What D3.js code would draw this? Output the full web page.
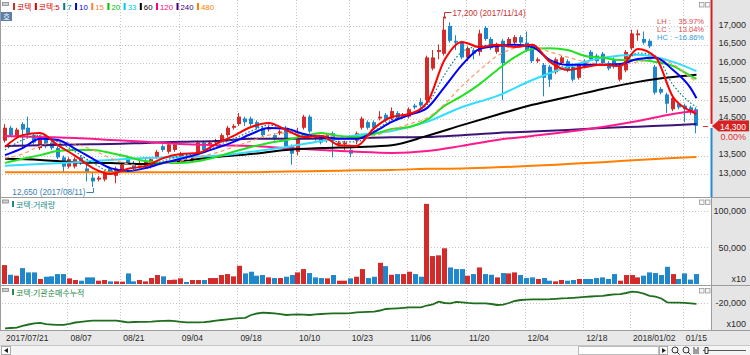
<!DOCTYPE html>
<html><head><meta charset="utf-8">
<script src="https://cdn.jsdelivr.net/npm/d3@7"></script>
<style>body{margin:0;background:#fff;}svg{display:block;font-family:"Liberation Sans","Noto Sans CJK KR",Arial,sans-serif;}</style>
</head><body><svg id="c" width="750" height="355"></svg>
<script>
const dates = ["2017/07/21","2017/07/24","2017/07/25","2017/07/26","2017/07/27","2017/07/28","2017/07/31",
"2017/08/01","2017/08/02","2017/08/03","2017/08/04","2017/08/07","2017/08/08","2017/08/09","2017/08/10","2017/08/11","2017/08/14","2017/08/16","2017/08/17","2017/08/18","2017/08/21","2017/08/22","2017/08/23","2017/08/24","2017/08/25","2017/08/28","2017/08/29","2017/08/30","2017/08/31",
"2017/09/01","2017/09/04","2017/09/05","2017/09/06","2017/09/07","2017/09/08","2017/09/11","2017/09/12","2017/09/13","2017/09/14","2017/09/15","2017/09/18","2017/09/19","2017/09/20","2017/09/21","2017/09/22","2017/09/25","2017/09/26","2017/09/27","2017/09/28","2017/09/29",
"2017/10/10","2017/10/11","2017/10/12","2017/10/13","2017/10/16","2017/10/17","2017/10/18","2017/10/19","2017/10/20","2017/10/23","2017/10/24","2017/10/25","2017/10/26","2017/10/27","2017/10/30","2017/10/31",
"2017/11/01","2017/11/02","2017/11/03","2017/11/06","2017/11/07","2017/11/08","2017/11/09","2017/11/10","2017/11/13","2017/11/14","2017/11/15","2017/11/16","2017/11/17","2017/11/20","2017/11/21","2017/11/22","2017/11/23","2017/11/24","2017/11/27","2017/11/28","2017/11/29","2017/11/30",
"2017/12/01","2017/12/04","2017/12/05","2017/12/06","2017/12/07","2017/12/08","2017/12/11","2017/12/12","2017/12/13","2017/12/14","2017/12/15","2017/12/18","2017/12/19","2017/12/20","2017/12/21","2017/12/22","2017/12/26","2017/12/27","2017/12/28",
"2018/01/02","2018/01/03","2018/01/04","2018/01/05","2018/01/08","2018/01/09","2018/01/10","2018/01/11","2018/01/12","2018/01/15","2018/01/16","2018/01/17"];

const open = [13900,14250,14000,14350,14250,14050,13700,13950,13850,13700,
13450,13200,13200,13450,13150,12900,12850,12850,13150,12950,
13100,13450,13300,13200,13200,13200,13450,13750,13600,13650,
13450,13500,13400,13550,13850,13800,13850,13900,14050,14250,
14350,14500,14500,14400,14250,14200,14050,14100,14250,13750,
13600,14250,14550,14000,14000,13900,14100,13800,13800,13650,
13900,14250,14400,14400,14500,14600,14500,14650,14550,14550,
14850,14950,15000,15850,16300,16250,17000,16600,16550,16150,
16350,16300,16950,16650,16300,16600,16500,16550,16700,16550,
16450,16050,15950,15900,15750,16000,16050,15900,15600,16050,
16300,16200,16250,16000,16100,15550,15800,16400,16750,16650,
16600,15900,15300,15150,14750,14900,14850,14800,14750];
const high = [14350,14300,14250,14400,14550,14100,14050,14050,13900,13750,
13500,13450,13450,13500,13250,13050,12950,13100,13200,13200,
13300,13500,13350,13350,13400,13450,13650,13800,13850,13850,
13600,13550,13500,13900,13900,13900,13950,14100,14300,14350,
14650,14550,14550,14450,14300,14300,14100,14200,14300,13800,
14250,14600,14600,14100,14050,14100,14150,13900,13900,13750,
14150,14550,14450,14450,14700,14650,14800,14700,14650,14800,
14900,15050,16200,16350,16500,17200,17100,16750,16600,16450,
16400,16900,17000,16700,16550,16650,16700,16750,16750,16850,
16500,16150,16000,15950,16150,16200,16100,15950,16000,16100,
16350,16250,16300,16050,16150,15950,16350,16900,16900,16850,
16650,15950,15350,15200,15100,14950,14900,14850,14800];
const low = [13850,14000,13950,13700,14000,13800,13650,13700,13650,13400,
13050,13150,13150,13250,12800,12650,12800,12800,13000,12750,
13050,13250,13100,13150,13150,13150,13400,13600,13550,13600,
13400,13400,13350,13500,13600,13750,13800,13850,14000,14200,
14300,14300,14300,14200,14000,14150,13900,14050,13650,13250,
13500,14200,14100,13900,13800,13850,13450,13750,13650,13450,
13800,14200,14200,14200,14450,14400,14450,14450,14500,14500,
14750,14800,14950,15800,16100,16200,16550,16350,16100,16050,
16100,16200,16600,16350,16250,15000,16450,16500,16500,16300,
16000,16000,15100,15350,15700,15950,15750,15500,15550,15850,
16050,15950,15950,15800,15850,15500,15750,16350,16600,16500,
16400,15150,15150,14650,14700,14750,14400,14600,14100];
const close = [14250,14050,14200,14200,14100,13850,14000,13750,13700,13450,
13200,13400,13400,13300,13050,12800,12900,13050,13050,13150,
13250,13300,13150,13300,13350,13400,13600,13650,13800,13800,
13550,13450,13450,13850,13650,13850,13900,14050,14250,14300,
14550,14400,14350,14250,14050,14250,13950,14150,13750,13550,
13950,14550,14150,13950,13850,14050,13900,13850,13850,13550,
14100,14500,14250,14250,14550,14450,14700,14500,14600,14750,
14800,14850,16150,16150,16350,16900,16600,16550,16150,16400,
16250,16800,16650,16400,16500,16000,16650,16700,16550,16350,
16050,16100,15600,15550,16100,16150,15800,15550,15950,15900,
16100,16050,16000,15850,15900,15900,16300,16800,16800,16550,
16450,15200,15200,14900,15050,14800,14750,14700,14300];
const volume = [25700,12600,11300,21600,15800,15800,6800,9900,10400,13500,
13500,7700,5400,4500,9000,9000,4500,5400,3600,3600,
3200,14400,3600,5400,3600,8100,12200,10400,5400,5900,
7700,2700,5400,5400,5400,8100,8100,12200,13500,10400,
24800,14400,16700,11300,12200,9000,8100,8100,9900,12200,
15800,20300,14900,9000,8100,7700,12200,4500,4500,7700,
9900,20300,8100,9900,28800,24300,12600,13500,13500,16700,
13500,9900,109000,38000,39000,48600,22500,20300,20300,11300,
13500,22500,13500,12600,9000,14900,14400,15800,12200,8100,
9000,6800,8100,4500,3600,5400,4500,5400,6800,6800,
6800,8100,9000,6800,13500,4500,12200,12200,9000,11300,
15800,14900,12200,23400,13500,6800,14400,6000,13500];
const instNetCum = [-26325,-26250,-26175,-25725,-25375,-25075,-24975,-25300,-25400,-25475,
-25450,-25200,-24875,-24700,-24550,-24425,-24425,-24425,-24425,-24425,
-24625,-24825,-24750,-24725,-24700,-24650,-24550,-24450,-24425,-24550,
-24700,-24825,-24825,-24825,-24775,-24625,-24400,-24250,-24075,-23900,
-23800,-23700,-23000,-22625,-22425,-22500,-22600,-22800,-23000,-22900,
-22825,-22900,-23000,-22850,-22750,-22675,-22575,-22575,-22575,-22525,
-22325,-22275,-22225,-22175,-21875,-21500,-21425,-21325,-21200,-21075,
-21075,-21075,-20625,-20325,-19675,-20000,-20075,-19700,-19825,-19975,
-20075,-20075,-20075,-20250,-20500,-20400,-20000,-19500,-19250,-19150,
-19075,-19075,-19075,-19050,-18950,-18850,-18800,-18700,-18575,-18475,
-18375,-18275,-18200,-18000,-17825,-17775,-17500,-17175,-17300,-17650,
-18200,-18400,-18875,-19825,-19900,-19925,-19950,-20075,-20200];

// moving averages at sample dates (index into dates)
const maFineIdx = [0,3,6,9,12,15,18,21,24,27,30,33,36,39,42,45,48,51,54,57,60,63,66,69,72,75,78,81,84,87,90,93,96,99,102,105,108,111,114,117,118];
const ma5 = [13730,14050,14110,13780,13490,13160,13000,13140,13220,13430,13540,13570,13810,14030,14270,14380,14190,14000,14030,13780,13760,14240,14540,14620,14920,16080,16570,16430,16490,16430,16490,16030,15810,15890,15950,15920,16380,16160,15080,14700,14620];
const ma7 = [13650,13920,14050,13870,13600,13300,13080,13080,13190,13350,13490,13570,13760,13950,14160,14320,14220,14050,14030,13870,13870,14160,14460,14620,14870,15680,16300,16460,16490,16460,16460,16080,15870,15920,15950,15950,16270,16190,15410,14920,14810];
const ma10 = [13510,13700,13950,13920,13680,13410,13160,13080,13160,13300,13410,13540,13700,13870,14080,14240,14220,14080,14000,13950,13950,14140,14410,14600,14780,15350,15950,16380,16460,16490,16430,16080,15950,15950,15950,15970,16110,16140,15810,15320,15050];
const ma15 = [13430,13540,13760,13870,13810,13650,13430,13270,13220,13270,13350,13460,13570,13730,13890,14050,14110,14080,14050,14000,13950,14030,14190,14350,14510,14890,15380,15810,16190,16400,16460,16300,16160,16030,15970,15970,16030,16110,15970,15600,15490];
const ma20 = [13300,13410,13510,13620,13650,13650,13570,13460,13350,13300,13300,13350,13460,13600,13730,13840,13920,14030,14110,14030,14000,14080,14220,14270,14460,14840,15110,15430,15810,16160,16380,16400,16350,16190,16140,16080,16080,16030,15920,15650,15570];
const maCoarseIdx = [0,6,12,18,24,30,36,42,48,54,60,66,72,78,84,90,96,102,108,114,118];
const ma33 = [13220,13270,13320,13380,13430,13460,13490,13600,13730,13890,14050,14160,14410,14810,15110,15540,15890,16140,16220,16030,15780];
const ma60 = [13410,13380,13320,13300,13270,13350,13460,13540,13650,13700,13730,13780,14030,14320,14600,14870,15080,15300,15490,15620,15680];
const ma120 = [14030,14000,13970,13920,13870,13810,13780,13760,13700,13650,13600,13570,13620,13760,13920,14030,14140,14270,14430,14620,14700];
const ma240 = [13760,13780,13800,13810,13840,13870,13890,13950,13950,13960,13970,13990,14000,14050,14110,14150,14190,14240,14280,14320,14350];
const ma480 = [13050,13050,13050,13050,13050,13050,13050,13050,13070,13080,13100,13110,13140,13150,13180,13220,13270,13320,13380,13430,13460];

const priceGridTicks = [13000,13500,14000,14500,15000,15500,16000,16500,17000];
const priceLabelTicks = [13000,13500,14500,15000,15500,16000,16500,17000];
const volumeTicks = [50000,100000];
const netTicks = [-20000];
const tickDates = ["2017/07/21","2017/08/07","2017/08/21","2017/09/04","2017/09/18","2017/10/10","2017/10/23","2017/11/06","2017/11/20","2017/12/04","2017/12/18","2018/01/02","2018/01/15"];
const tickLabels = ["2017/07/21","08/07","08/21","09/04","09/18","10/10","10/23","11/06","11/20","12/04","12/18","2018/01/02","01/15"];
const legendNames = ["코텍","코텍:5","7","10","15","20","33","60","120","240","480"];

// ---------- drawing ----------
const svg = d3.select("#c");
const UP="#d42a2a", DOWN="#1f87cc";
const x = d3.scaleBand().domain(dates).range([2.07,699.4]).paddingInner(0.25).paddingOuter(0.125);
const cx = i => x(dates[i]) + x.bandwidth()/2;
const y = d3.scaleLinear().domain([13000,17000]).range([174,26]);
const yv = d3.scaleLinear().domain([0,100000]).range([284,210.5]);
const yn = d3.scaleLinear().domain([-26750,-15500]).range([330,285]);
const crisp = v => Math.round(v)+0.5;

// backgrounds
svg.append("rect").attr("width",750).attr("height",355).attr("fill","#fff");
svg.append("rect").attr("x",712).attr("y",0).attr("width",38).attr("height",331).attr("fill","#e5e5e5");
svg.append("rect").attr("x",0).attr("y",331).attr("width",750).attr("height",14).attr("fill","#e8e8e8");
svg.append("rect").attr("x",0).attr("y",345).attr("width",750).attr("height",10).attr("fill","#f5f5f5");

// grid
const grid = svg.append("g").attr("stroke","#c4c4c4").attr("stroke-dasharray","1,2").attr("stroke-width",1);
priceGridTicks.forEach(p=>grid.append("line").attr("x1",2).attr("x2",710).attr("y1",crisp(y(p))).attr("y2",crisp(y(p))));
volumeTicks.forEach(v=>grid.append("line").attr("x1",2).attr("x2",710).attr("y1",crisp(yv(v))).attr("y2",crisp(yv(v))));
netTicks.forEach(v=>grid.append("line").attr("x1",2).attr("x2",710).attr("y1",crisp(yn(v))).attr("y2",crisp(yn(v))));
const gridX = d => crisp(cx(dates.indexOf(d))-2);
tickDates.slice(1).forEach(d=>grid.append("line").attr("x1",gridX(d)).attr("x2",gridX(d)).attr("y1",0).attr("y2",330));

// panel borders
const bd = svg.append("g").attr("stroke","#9c9c9c").attr("stroke-width",1);
bd.append("line").attr("x1",0).attr("x2",750).attr("y1",197.5).attr("y2",197.5);
bd.append("line").attr("x1",0).attr("x2",750).attr("y1",285.5).attr("y2",285.5);
bd.append("line").attr("x1",0).attr("x2",750).attr("y1",330.5).attr("y2",330.5);
bd.append("line").attr("x1",0.5).attr("x2",0.5).attr("y1",0).attr("y2",331);
bd.append("line").attr("x1",711.5).attr("x2",711.5).attr("y1",197).attr("y2",331);
bd.append("line").attr("x1",0).attr("x2",750).attr("y1",345.5).attr("y2",345.5).attr("stroke","#c8c8c8");

// current price side bar
const lastY = y(close[close.length-1]);
svg.append("rect").attr("x",710.5).attr("y",0).attr("width",2).attr("height",lastY-2).attr("fill","#d81e1e");
svg.append("rect").attr("x",710.5).attr("y",lastY+2).attr("width",2).attr("height",197-lastY-2).attr("fill","#2a8ad0");

// candles
const cg = svg.append("g");
dates.forEach((d,i)=>{
  const up = close[i] >= open[i];
  const col = up ? UP : DOWN;
  const bx = Math.round(cx(i)-2);
  cg.append("line").attr("x1",bx+1.5).attr("x2",bx+1.5).attr("y1",y(high[i])).attr("y2",y(low[i])).attr("stroke",col).attr("stroke-width",1);
  const t = y(Math.max(open[i],close[i])), b = y(Math.min(open[i],close[i]));
  cg.append("rect").attr("x",bx).attr("y",t).attr("width",4).attr("height",Math.max(1,b-t)).attr("fill",col);
});

// moving averages
const maSeries = [
  {idx:maCoarseIdx, v:ma480, c:"#ff8000", w:2},
  {idx:maCoarseIdx, v:ma240, c:"#3c1478", w:2},
  {idx:maCoarseIdx, v:ma120, c:"#ff1a8c", w:2},
  {idx:maCoarseIdx, v:ma60, c:"#000000", w:2},
  {idx:maCoarseIdx, v:ma33, c:"#33ddff", w:2},
  {idx:maFineIdx, v:ma20, c:"#22e022", w:2},
  {idx:maFineIdx, v:ma15, c:"#ff9a66", w:1.2, dash:"4,3"},
  {idx:maFineIdx, v:ma10, c:"#0000ff", w:2},
  {idx:maFineIdx, v:ma7, c:"#008080", w:1.2, dash:"1.5,2"},
  {idx:maFineIdx, v:ma5, c:"#ff0000", w:2}
];
maSeries.forEach(s=>{
  const line = d3.line().x((d,k)=>cx(s.idx[k])).y(d=>y(d)).curve(d3.curveMonotoneX);
  svg.append("path").attr("d",line(s.v)).attr("fill","none").attr("stroke",s.c).attr("stroke-width",s.w)
    .attr("stroke-dasharray",s.dash||null).attr("stroke-linejoin","round");
});

// high / low annotations
const hiI = high.indexOf(d3.max(high)), loI = low.indexOf(d3.min(low));
const hx = Math.round(cx(hiI))+0.5, hy = y(high[hiI]);
svg.append("path").attr("d",`M${hx},${hy-1}V12.5H${hx+7}`).attr("fill","none").attr("stroke","#c83232");
svg.append("rect").attr("x",hx-1.5).attr("y",hy-2).attr("width",3).attr("height",2).attr("fill","#c83232");
svg.append("text").attr("x",hx+8).attr("y",15.5).attr("fill","#c83232").style("font-size","8.2px")
  .text(`${d3.format(",")(high[hiI])} (${dates[hiI]})`);
const lx = Math.round(cx(loI))+0.5, ly = y(low[loI]);
svg.append("path").attr("d",`M${lx},${ly+1}V192.5H${lx-7}`).attr("fill","none").attr("stroke","#3a7fb5");
svg.append("text").attr("x",lx-8).attr("y",194.5).attr("text-anchor","end").attr("fill","#3a7fb5").style("font-size","8.2px")
  .text(`${d3.format(",")(low[loI])} (${dates[loI]})`);

// LH / LC / HC
const last = close[close.length-1], H = high[hiI], L = low[loI];
const pct = v => d3.format(".2f")(v)+"%";
[["LH :", pct((H/L-1)*100), "#e04545", 23.5],["LC :", pct((last/L-1)*100), "#e04545", 31.5],["HC :", pct((last/H-1)*100), "#3399dd", 39.5]]
.forEach(r=>{
  svg.append("text").attr("x",657).attr("y",r[3]).attr("fill",r[2]).style("font-size","7.5px").text(r[0]);
  svg.append("text").attr("x",704).attr("y",r[3]).attr("text-anchor","end").attr("fill",r[2]).style("font-size","7.5px").text(r[1]);
});

// volume bars
const vg = svg.append("g");
dates.forEach((d,i)=>{
  const col = close[i] >= open[i] ? UP : DOWN;
  vg.append("rect").attr("x",Math.round(cx(i)-2.5)).attr("y",yv(volume[i])).attr("width",5).attr("height",yv(0)-yv(volume[i])).attr("fill",col);
});

// institutional net buying cumulative
svg.append("path").attr("d",d3.line().x((d,i)=>cx(i)).y(d=>yn(d))(instNetCum))
  .attr("fill","none").attr("stroke","#1e6e1e").attr("stroke-width",1.8);

// right axes
const fmt = d => (d<0?"-":"") + d3.format(",")(Math.abs(d));
function rightAxis(scale, ticks, shift){
  const g = svg.append("g").attr("transform",`translate(712,${shift})`).call(d3.axisRight(scale).tickValues(ticks).tickFormat(fmt).tickSize(0));
  g.select(".domain").remove();
  g.selectAll("text").attr("x",34).attr("text-anchor","end").attr("fill","#2a2a2a").style("font-size","9px").style("font-family","Liberation Sans, Arial, sans-serif");
  return g;
}
rightAxis(y, priceLabelTicks, -1.5);
rightAxis(yv, volumeTicks, 0);
rightAxis(yn, netTicks, 0);
svg.append("text").attr("x",746).attr("y",282).attr("text-anchor","end").attr("fill","#2a2a2a").style("font-size","9px").text("x10");
svg.append("text").attr("x",746).attr("y",327).attr("text-anchor","end").attr("fill","#2a2a2a").style("font-size","9px").text("x100");

// current price marker
svg.append("path").attr("d",`M712,${lastY}L718,${lastY-5}L718,${lastY+5}Z`).attr("fill","#d81e1e");
svg.append("rect").attr("x",718).attr("y",lastY-5.5).attr("width",31).attr("height",11).attr("fill","#d42222");
svg.append("text").attr("x",746).attr("y",lastY+4).attr("text-anchor","end").attr("fill","#fff").style("font-size","8.5px").text(d3.format(",")(last));
svg.append("text").attr("x",746).attr("y",lastY+14).attr("text-anchor","end").attr("fill","#e03030").style("font-size","9px").text("0.00%");
svg.append("line").attr("x1",703).attr("x2",708).attr("y1",crisp(lastY)).attr("y2",crisp(lastY)).attr("stroke","#e03030");

// date axis
const xa = svg.append("g").attr("transform","translate(0,331)").call(d3.axisBottom(x).tickValues(tickDates).tickFormat((d,i)=>tickLabels[i]).tickSize(0));
xa.select(".domain").remove();
xa.selectAll("text").attr("x",1).attr("y",3.5).attr("dy","0.71em").attr("text-anchor","start").attr("fill","#2a2a2a").style("font-size","8.5px").style("font-family","Liberation Sans, Arial, sans-serif");

// legend (price panel)
const lg = svg.append("g");
const legendColors = ["#d80000","#d80000","#008080","#0000e0","#ff8040","#00c000","#00c8f0","#000000","#ff0080","#400080","#ff8000"];
let lxp = 13;
legendNames.forEach((n,i)=>{
  lg.append("rect").attr("x",lxp).attr("y",3).attr("width",2).attr("height",7).attr("fill", i===0 ? UP : legendColors[i]);
  const t = lg.append("text").attr("x",lxp+4).attr("y",10).attr("fill",legendColors[i]).style("font-size","7.8px").text(n);
  lxp += 4 + t.node().getComputedTextLength() + 3.5;
});
// small pane icons
function paneIcons(yTop){
  svg.append("rect").attr("x",2.5).attr("y",yTop+1.5).attr("width",6).attr("height",3).attr("fill","#d0d0d0").attr("stroke","#888").attr("stroke-width",0.8);
  [699,705].forEach(xx=>svg.append("rect").attr("x",xx+0.5).attr("y",yTop+1.5).attr("width",4.5).attr("height",4.5).attr("fill","#f4f4f4").attr("stroke","#999").attr("stroke-width",0.8));
}
paneIcons(1); paneIcons(198.5); paneIcons(287);
svg.append("rect").attr("x",1).attr("y",12).attr("width",11).attr("height",9).attr("fill","#5a7ea8");
svg.append("text").attr("x",6.5).attr("y",19.5).attr("text-anchor","middle").attr("fill","#fff").style("font-size","7.5px").text("호");

// sub panel legends
svg.append("rect").attr("x",12).attr("y",201).attr("width",2).attr("height",6).attr("fill","#1a8a8a");
svg.append("text").attr("x",16).attr("y",208).attr("fill","#1a8a8a").style("font-size","8px").text("코텍:거래량");
svg.append("rect").attr("x",12).attr("y",289).attr("width",2).attr("height",6).attr("fill","#2a8a4a");
svg.append("text").attr("x",16).attr("y",296).attr("fill","#2a8a4a").style("font-size","8px").text("코텍:기관순매수누적");

// bottom scroll bar
svg.append("rect").attr("x",1.5).attr("y",346.5).attr("width",9).attr("height",8).attr("fill","#fff").attr("stroke","#aaa");
svg.append("path").attr("d","M4,350.5L8,348V353Z").attr("fill","#222");
svg.append("rect").attr("x",578.5).attr("y",346.5).attr("width",80).attr("height",8).attr("fill","#fff").attr("stroke","#bbb");
svg.append("rect").attr("x",659.5).attr("y",346.5).attr("width",8).attr("height",8).attr("fill","#fff").attr("stroke","#aaa");
svg.append("path").attr("d","M662,348L666,350.5L662,353Z").attr("fill","#222");
[675,686].forEach(c=>{svg.append("circle").attr("cx",c).attr("cy",350).attr("r",3).attr("fill","none").attr("stroke","#333");
  svg.append("line").attr("x1",c+2).attr("x2",c+4.5).attr("y1",352).attr("y2",354.5).attr("stroke","#333");});
svg.append("path").attr("d","M694,347V354M696,349V354M698,347V354").attr("stroke","#444");
svg.append("line").attr("x1",703).attr("x2",746).attr("y1",350.5).attr("y2",350.5).attr("stroke","#555");
svg.append("path").attr("d","M705,347.5h3v6h-3Z").attr("fill","#fff").attr("stroke","#333");
</script></body></html>
